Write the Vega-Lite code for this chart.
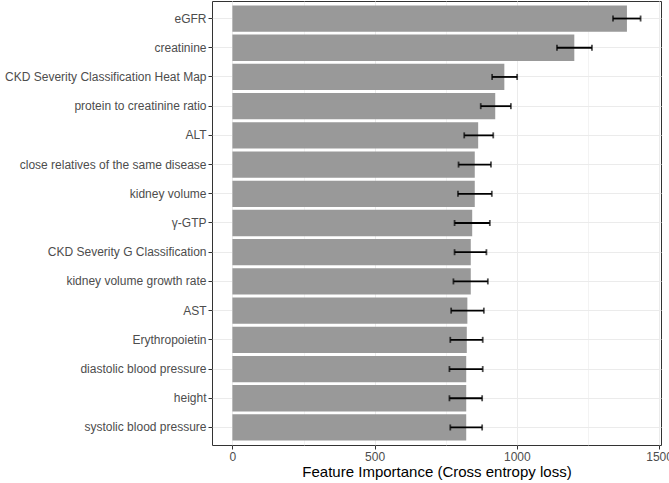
{
  "$schema": "https://vega.github.io/schema/vega-lite/v6.json",
  "width": 449,
  "height": 444,
  "autosize": {"type": "none"},
  "padding": {"left": 212, "top": 1, "right": 8, "bottom": 38},
  "background": "white",
  "config": {
    "font": "Liberation Sans",
    "view": {"stroke": "#333333", "strokeWidth": 1},
    "axis": {
      "domain": false,
      "gridColor": "#EBEBEB",
      "tickColor": "#333333",
      "tickSize": 4,
      "labelColor": "#4D4D4D",
      "labelFontSize": 12,
      "labelPadding": 2,
      "labelLimit": 400,
      "titleColor": "#000000",
      "titleFontWeight": "normal"
    }
  },
  "data": {
    "values": [
      {"feature": "eGFR", "importance": 1387, "lo": 1338, "hi": 1435},
      {"feature": "creatinine", "importance": 1202, "lo": 1141, "hi": 1264},
      {"feature": "CKD Severity Classification Heat Map", "importance": 956, "lo": 913, "hi": 1001},
      {"feature": "protein to creatinine ratio", "importance": 924, "lo": 873, "hi": 979},
      {"feature": "ALT", "importance": 864, "lo": 815, "hi": 917},
      {"feature": "close relatives of the same disease", "importance": 852, "lo": 795, "hi": 909},
      {"feature": "kidney volume", "importance": 852, "lo": 793, "hi": 912},
      {"feature": "γ-GTP", "importance": 843, "lo": 781, "hi": 905},
      {"feature": "CKD Severity G Classification", "importance": 838, "lo": 781, "hi": 893},
      {"feature": "kidney volume growth rate", "importance": 838, "lo": 777, "hi": 898},
      {"feature": "AST", "importance": 826, "lo": 769, "hi": 884},
      {"feature": "Erythropoietin", "importance": 824, "lo": 766, "hi": 880},
      {"feature": "diastolic blood pressure", "importance": 822, "lo": 763, "hi": 880},
      {"feature": "height", "importance": 822, "lo": 763, "hi": 878},
      {"feature": "systolic blood pressure", "importance": 822, "lo": 766, "hi": 878}
    ]
  },
  "encoding": {
    "y": {
      "field": "feature",
      "type": "nominal",
      "sort": null,
      "scale": {"paddingInner": 0.1, "paddingOuter": 0.15},
      "axis": {"title": null, "grid": true, "gridWidth": 1}
    }
  },
  "layer": [
    {
      "mark": {"type": "bar", "color": "#999999"},
      "encoding": {
        "x": {
          "field": "importance",
          "type": "quantitative",
          "scale": {"domain": [-71.75, 1506.75], "nice": false, "zero": false},
          "axis": {
            "title": "Feature Importance (Cross entropy loss)",
            "titleFontSize": 15,
            "titlePadding": 2,
            "values": [0, 250, 500, 750, 1000, 1250, 1500],
            "labelExpr": "datum.value % 500 === 0 ? datum.label : ''",
            "format": "d",
            "grid": true,
            "gridWidth": {"condition": {"test": "datum.value % 500 === 0", "value": 1}, "value": 0.6},
            "tickOpacity": {"condition": {"test": "datum.value % 500 === 0", "value": 1}, "value": 0},
            "labelFlush": false,
            "labelOverlap": false
          }
        }
      }
    },
    {
      "mark": {"type": "rule", "color": "#000000", "strokeWidth": 1.8},
      "encoding": {
        "x": {"field": "lo", "type": "quantitative"},
        "x2": {"field": "hi"}
      }
    },
    {
      "mark": {"type": "tick", "color": "#000000", "size": 6, "thickness": 1.8},
      "encoding": {"x": {"field": "lo", "type": "quantitative"}}
    },
    {
      "mark": {"type": "tick", "color": "#000000", "size": 6, "thickness": 1.8},
      "encoding": {"x": {"field": "hi", "type": "quantitative"}}
    }
  ]
}
